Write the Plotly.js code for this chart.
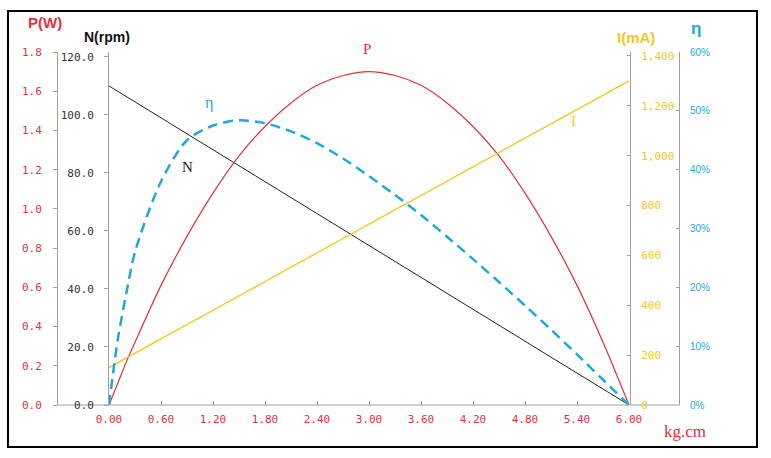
<!DOCTYPE html>
<html>
<head>
<meta charset="utf-8">
<script src="https://cdn.plot.ly/plotly-3.0.1.min.js"></script>
<style>html,body{margin:0;padding:0;background:#fff;}#chart{width:771px;height:458px;}</style>
</head>
<body>
<div id="chart"></div>
<script>
// Data
var torque = [0, 0.1, 0.2, 0.3, 0.6, 0.9, 1.2, 1.5, 1.8, 2.1, 2.4, 2.7, 3.0, 3.3, 3.6, 3.9, 4.2, 4.5, 4.8, 5.1, 5.4, 5.7, 6.0];
var speedN = [110, 108.2, 106.3, 104.5, 99, 93.5, 88, 82.5, 77, 71.5, 66, 60.5, 55, 49.5, 44, 38.5, 33, 27.5, 22, 16.5, 11, 5.5, 0];
var powerP = [0, 0.11, 0.22, 0.32, 0.61, 0.86, 1.08, 1.27, 1.42, 1.54, 1.63, 1.68, 1.70, 1.68, 1.63, 1.54, 1.42, 1.27, 1.08, 0.86, 0.61, 0.32, 0];
var currentI = [150, 169, 188, 208, 265, 323, 380, 438, 495, 553, 610, 668, 725, 783, 840, 898, 955, 1013, 1070, 1128, 1185, 1243, 1300];
var efficiency = [0, 0.11, 0.19, 0.26, 0.38, 0.45, 0.475, 0.484, 0.479, 0.465, 0.445, 0.419, 0.389, 0.357, 0.323, 0.286, 0.248, 0.209, 0.169, 0.128, 0.086, 0.043, 0];
var xTicks = [0, 0.6, 1.2, 1.8, 2.4, 3.0, 3.6, 4.2, 4.8, 5.4, 6.0];

var W = 771, H = 458;
function px(x){ return x / W; }
function py(y){ return 1 - y / H; }

var RED = '#e5303c', BLK = '#222222', YEL = '#f2c81e', BLU = '#1ea8dd', GRAY = '#a0a0a0';
var MONO = 'DejaVu Sans Mono, Liberation Mono, monospace';

var traces = [
  {x: torque, y: speedN, yaxis: 'y', mode: 'lines', line: {color: BLK, width: 1}, hoverinfo: 'skip'},
  {x: torque, y: currentI, yaxis: 'y3', mode: 'lines', line: {color: YEL, width: 1.3}, hoverinfo: 'skip'},
  {x: torque, y: efficiency, yaxis: 'y4', mode: 'lines', line: {color: BLU, width: 2.5, dash: '10px,6px', shape: 'spline', smoothing: 0.8}, hoverinfo: 'skip'},
  {x: torque, y: powerP, yaxis: 'y2', mode: 'lines', line: {color: RED, width: 1.2, shape: 'spline', smoothing: 0.8}, hoverinfo: 'skip'}
];

var yDom = [py(405), py(52)];

var layout = {
  width: W, height: H,
  margin: {l: 0, r: 0, t: 0, b: 0, autoexpand: false},
  paper_bgcolor: '#ffffff', plot_bgcolor: 'rgba(0,0,0,0)',
  showlegend: false,
  xaxis: {
    domain: [px(109), px(629)], range: [0, 6], tickvals: xTicks, tickformat: '.2f',
    showgrid: false, zeroline: false, showline: false,
    ticks: 'inside', ticklen: 4, tickcolor: GRAY, ticklabelstandoff: 6,
    tickfont: {family: MONO, size: 11, color: RED}
  },
  yaxis: {
    domain: yDom, range: [0, 121.7], tickvals: [0, 20, 40, 60, 80, 100, 120], tickformat: '.1f',
    showgrid: false, zeroline: false, showline: true, linecolor: GRAY, linewidth: 1,
    ticks: 'outside', ticklen: 4, tickcolor: GRAY, ticklabelstandoff: 8,
    tickfont: {family: MONO, size: 11, color: '#333333'}
  },
  yaxis2: {
    domain: yDom, overlaying: 'y', side: 'left', anchor: 'free', position: px(57),
    range: [0, 1.8], dtick: 0.2, tickformat: '.1f',
    showgrid: false, zeroline: false, showline: true, linecolor: GRAY, linewidth: 1,
    ticks: 'outside', ticklen: 4, tickcolor: GRAY, ticklabelstandoff: 9,
    tickfont: {family: MONO, size: 11, color: RED}
  },
  yaxis3: {
    domain: yDom, overlaying: 'y', side: 'right', anchor: 'free', position: px(630),
    range: [0, 1416], tickvals: [0, 200, 400, 600, 800, 1000, 1200, 1400], tickformat: ',d',
    showgrid: false, zeroline: false, showline: true, linecolor: GRAY, linewidth: 1,
    ticks: 'inside', ticklen: 3, tickcolor: GRAY, ticklabelstandoff: 8,
    tickfont: {family: MONO, size: 11, color: YEL}
  },
  yaxis4: {
    domain: yDom, overlaying: 'y', side: 'right', anchor: 'free', position: px(679),
    range: [0, 0.6], dtick: 0.1, tickformat: '.0%',
    showgrid: false, zeroline: false, showline: true, linecolor: GRAY, linewidth: 1,
    ticks: 'inside', ticklen: 3, tickcolor: GRAY, ticklabelstandoff: 8,
    tickfont: {family: 'Liberation Sans, Arial, sans-serif', size: 10, color: BLU}
  },
  shapes: [
    {type: 'rect', xref: 'paper', yref: 'paper', x0: px(8), x1: px(757), y0: py(447), y1: py(11), line: {color: '#000', width: 2}},
    {type: 'line', xref: 'paper', yref: 'paper', x0: px(57), x1: px(679), y0: py(405), y1: py(405), line: {color: GRAY, width: 1}, layer: 'below'}
  ],
  annotations: [
    {text: '<b>P(W)</b>', xref: 'paper', yref: 'paper', x: px(45), y: py(23), showarrow: false, xanchor: 'center', yanchor: 'middle', font: {family: 'Liberation Sans, Arial, sans-serif', size: 15, color: RED}},
    {text: '<b>N(rpm)</b>', xref: 'paper', yref: 'paper', x: px(107), y: py(37), showarrow: false, xanchor: 'center', yanchor: 'middle', font: {family: 'Liberation Sans, Arial, sans-serif', size: 14, color: '#111'}},
    {text: '<b>I(mA)</b>', xref: 'paper', yref: 'paper', x: px(636), y: py(37), showarrow: false, xanchor: 'center', yanchor: 'middle', font: {family: 'Liberation Sans, Arial, sans-serif', size: 15, color: YEL}},
    {text: '<b>η</b>', xref: 'paper', yref: 'paper', x: px(696), y: py(28), showarrow: false, xanchor: 'center', yanchor: 'middle', font: {family: 'Liberation Sans, Arial, sans-serif', size: 17, color: BLU}},
    {text: 'kg.cm', xref: 'paper', yref: 'paper', x: px(685), y: py(431), showarrow: false, xanchor: 'center', yanchor: 'middle', font: {family: 'Liberation Serif, serif', size: 17, color: RED}},
    {text: 'P', xref: 'paper', yref: 'paper', x: px(367), y: py(49), showarrow: false, xanchor: 'center', yanchor: 'middle', font: {family: 'Liberation Serif, serif', size: 15, color: RED}},
    {text: 'N', xref: 'paper', yref: 'paper', x: px(187), y: py(167), showarrow: false, xanchor: 'center', yanchor: 'middle', font: {family: 'Liberation Serif, serif', size: 15, color: BLK}},
    {text: 'η', xref: 'paper', yref: 'paper', x: px(209), y: py(103), showarrow: false, xanchor: 'center', yanchor: 'middle', font: {family: 'Liberation Serif, serif', size: 16, color: BLU}},
    {text: 'I', xref: 'paper', yref: 'paper', x: px(573), y: py(121), showarrow: false, xanchor: 'center', yanchor: 'middle', font: {family: 'Liberation Serif, serif', size: 15, color: YEL}}
  ]
};

Plotly.newPlot('chart', traces, layout, {staticPlot: true, displayModeBar: false});
</script>
</body>
</html>
